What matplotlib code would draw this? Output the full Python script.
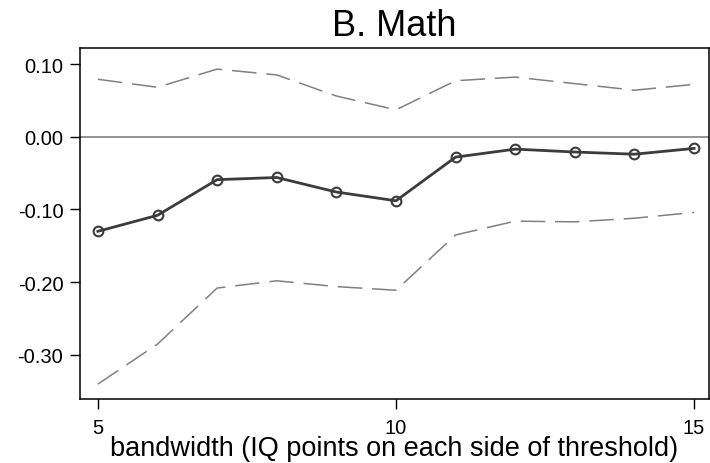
import matplotlib
matplotlib.use("Agg")
import matplotlib.pyplot as plt

# bandwidth (IQ points) and estimates
bandwidth = [5, 6, 7, 8, 9, 10, 11, 12, 13, 14, 15]
estimate = [-0.130, -0.108, -0.059, -0.056, -0.076, -0.088, -0.028, -0.017, -0.021, -0.024, -0.016]
ci_upper = [0.079, 0.068, 0.093, 0.085, 0.056, 0.037, 0.077, 0.082, 0.073, 0.064, 0.072]
ci_lower = [-0.340, -0.285, -0.208, -0.198, -0.206, -0.211, -0.135, -0.116, -0.117, -0.112, -0.104]

y_ticks = [0.10, 0.00, -0.10, -0.20, -0.30]
x_ticks = [5, 10, 15]

plt.rcParams["font.family"] = ["Liberation Sans", "DejaVu Sans"]

fig = plt.figure(figsize=(7.1, 4.64), dpi=100)
ax = fig.add_axes([80 / 710, 64 / 464, 629 / 710, 351 / 464])

ax.axhline(0, color="#808080", lw=1.2, zorder=1)

dash = (0, (16, 6.5))
ax.plot(bandwidth, ci_upper, color="#808080", lw=1.1, linestyle=dash, zorder=2)
ax.plot(bandwidth, ci_lower, color="#808080", lw=1.1, linestyle=dash, zorder=2)
ax.plot(bandwidth, estimate, color="#3c3c3c", lw=2.0, marker="o", markersize=7,
        markerfacecolor="none", markeredgecolor="#3c3c3c", markeredgewidth=1.5, zorder=3)

ax.set_xlim(4.7, 15.25)
ax.set_ylim(-0.3605, 0.122)

ax.set_yticks(y_ticks)
ax.set_yticklabels([f"{v:.2f}" for v in y_ticks])
ax.set_xticks(x_ticks)
ax.set_xticklabels([str(v) for v in x_ticks])

ax.tick_params(axis="both", length=7.5, width=1.0, labelsize=14.5, color="black")
ax.tick_params(axis="x", pad=6)
ax.tick_params(axis="y", pad=4.5)

for side in ["top", "bottom", "left", "right"]:
    ax.spines[side].set_linewidth(1.1)
    ax.spines[side].set_color("black")

ax.set_xlabel("bandwidth (IQ points on each side of threshold)", fontsize=19.5, labelpad=-1)
ax.set_title("B. Math", fontsize=26, pad=9)

fig.savefig("out.png", dpi=100)
